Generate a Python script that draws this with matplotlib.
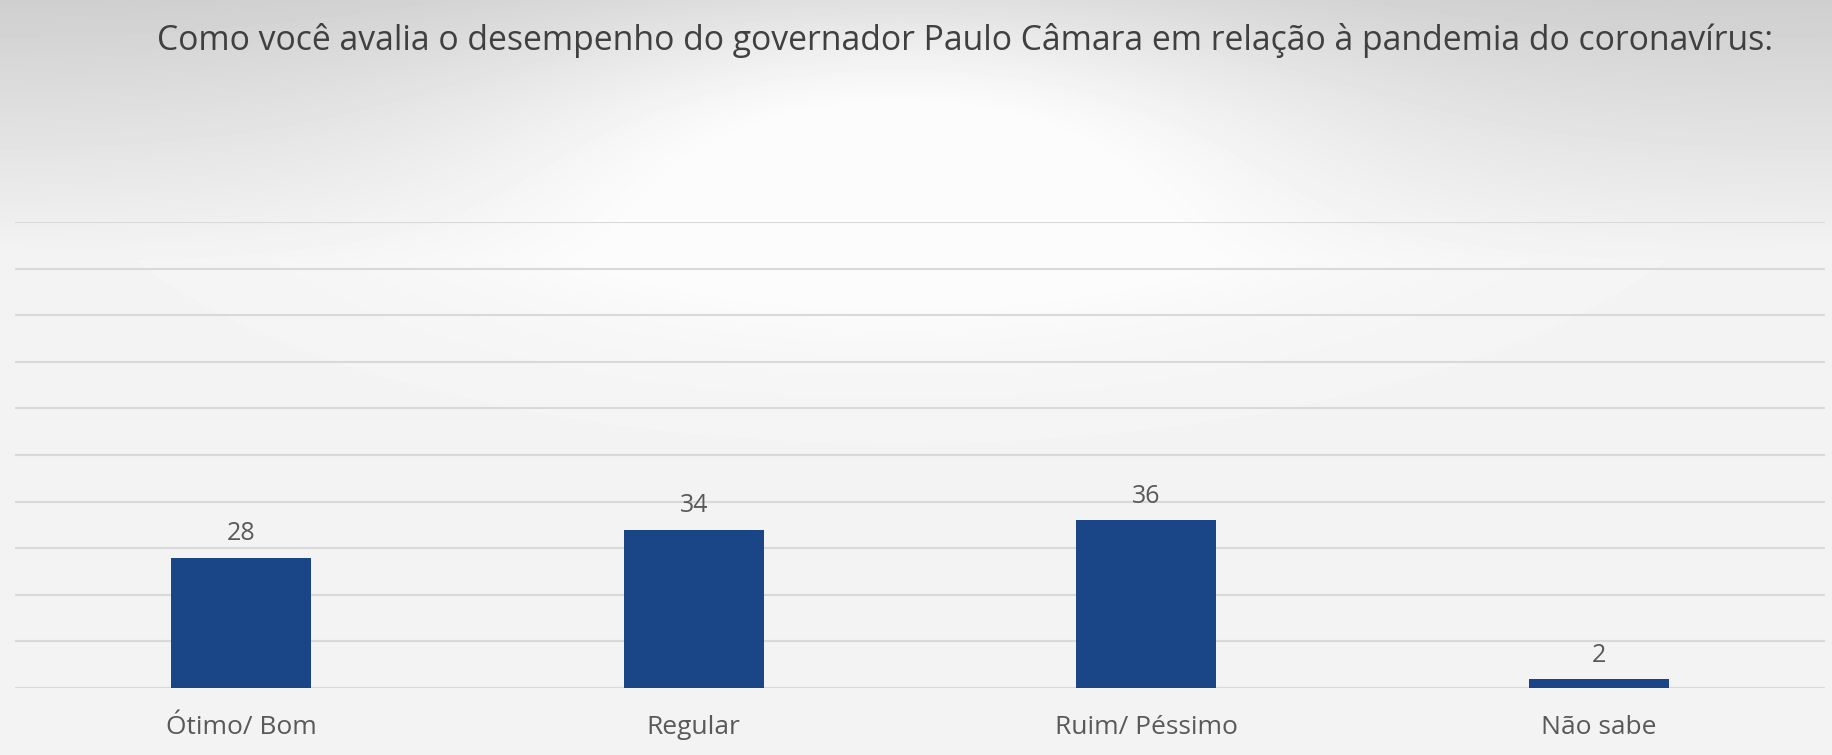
import numpy as np
import matplotlib.pyplot as plt

categories = ['Ótimo/ Bom', 'Regular', 'Ruim/ Péssimo', 'Não sabe']
values = [28, 34, 36, 2]
title = 'Como você avalia o desempenho do governador Paulo Câmara em relação à pandemia do coronavírus:'

bar_color = '#1a4587'
text_color = '#595959'
grid_color = '#d9d9d9'

plt.rcParams['font.family'] = ['Open Sans', 'DejaVu Sans']

fig = plt.figure(figsize=(18.32, 7.55), dpi=100)

# background: grey at the top fading into light grey, with a bright spot in the middle
bg = fig.add_axes([0, 0, 1, 1], zorder=0)
h, w = 755, 1832
yy, xx = np.mgrid[0:h, 0:w]
base = 0.81 + 0.145 * np.clip(yy / 260.0, 0, 1)
spot = 0.12 * np.exp(-((xx - 900) / 420.0) ** 2 - ((yy - 120) / 160.0) ** 2)
img = np.clip(base + spot, 0, 0.985)
bg.imshow(img, cmap='gray', vmin=0, vmax=1, aspect='auto', extent=(0, 1, 0, 1))
bg.set_axis_off()

ax = fig.add_axes([15 / 1832, 67 / 755, 1810 / 1832, 466 / 755], zorder=1)
ax.patch.set_alpha(0)
x = np.arange(len(categories))
bars = ax.bar(x, values, width=0.31, color=bar_color, zorder=3)
ax.set_xlim(-0.5, len(categories) - 0.5)
ax.set_ylim(0, 100)
ax.set_yticks(np.arange(0, 101, 10))
ax.yaxis.grid(True, color=grid_color, linewidth=1.5)
ax.set_axisbelow(True)
ax.tick_params(axis='y', left=False, labelleft=False)
ax.tick_params(axis='x', bottom=False, colors=text_color, labelsize=19, pad=16)
ax.set_xticks(x)
ax.set_xticklabels(categories)
for s in ax.spines.values():
    s.set_visible(False)

for b, v in zip(bars, values):
    ax.annotate(str(v), (b.get_x() + b.get_width() / 2, v), xytext=(0, 8),
                textcoords='offset points', ha='center', va='bottom',
                fontsize=18, color=text_color)

fig.text(0.527, 1 - 41 / 755, title, ha='center', va='center',
         fontsize=24.3, color='#404040')

fig.savefig('out.png', dpi=100)
